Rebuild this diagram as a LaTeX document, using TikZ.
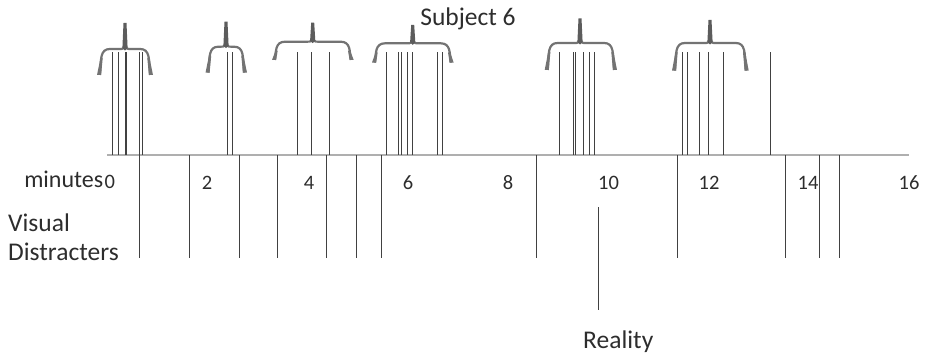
\documentclass[tikz,border=0pt]{standalone}
\usepackage{fontspec}
\setmainfont{Carlito}
\definecolor{evline}{RGB}{65,65,65}
\definecolor{axisc}{RGB}{175,175,175}
\definecolor{bracec}{RGB}{115,115,115}
\definecolor{txt}{RGB}{45,45,45}
\tikzset{
  evt/.style={draw=evline, line width=0.9pt},
  axisline/.style={draw=axisc, line width=1.4pt},
  bracepath/.style={draw=bracec, line width=2.2pt, line join=round},
  bracetip/.style={fill=bracec!80!black, draw=none},
  lbl/.style={text=txt, inner sep=0pt, font=\fontsize{25.5}{28}\selectfont},
  num/.style={text=txt, inner sep=0pt, font=\fontsize{20.5}{22}\selectfont, anchor=base},
}
\newcommand\mybrace[6]{% x1, x2, xc, yh, yend, ytip
  % left half
  \draw[bracepath] ({#1+1},{#5}) .. controls ({#1+2},{#4+10}) and ({#1+1},{#4}) .. ({#1+11},{#4})
     -- ({#3-6},{#4}) .. controls ({#3-1},{#4}) .. ({#3},{#4-7});
  % right half
  \draw[bracepath] ({#2-1},{#5}) .. controls ({#2-2},{#4+10}) and ({#2-1},{#4}) .. ({#2-11},{#4})
     -- ({#3+6},{#4}) .. controls ({#3+1},{#4}) .. ({#3},{#4-7});
  % tapered ends
  \fill[bracec] ({#1+1+1.1},{#5}) -- ({#1+2.6+1.1},{#4+9}) -- ({#1+2.6-1.1},{#4+9}) -- ({#1-2},{#5}) -- cycle;
  \fill[bracec] ({#2-1-1.1},{#5}) -- ({#2-2.6-1.1},{#4+9}) -- ({#2-2.6+1.1},{#4+9}) -- ({#2+2},{#5}) -- cycle;
  % tapered tip
  \fill[bracetip] ({#3-2.6},{#4-1}) -- ({#3-1.5},{#6}) -- ({#3+1.5},{#6}) -- ({#3+2.6},{#4-1})
     -- ({#3},{#4+1.5}) -- cycle;
}
\begin{document}
\begin{tikzpicture}[x=1pt,y=-1pt]
\useasboundingbox (0,0) rectangle (925,355);
% axis
\coordinate (ax0) at (107,155);
\coordinate (ax1) at (909,155);
\draw[axisline] (ax0) -- (ax1);
% subject events (above axis)
\foreach \x in {112,118,125,126.5,139,142.5,227.7,232.7,297.7,311.7,329.3,386.7,398.3,401,407.3,412.7,437.3,442,559,573.3,575.3,583.3,589.3,594.3,682.7,687.7,699.3,708.3,723.3,770}
  \draw[evt] (\x,155) -- (\x,52);
% visual distracters (below axis)
\foreach \x in {139.3,189,239,277,326.3,356.3,381,536,677.7,785.3,819.3,839.7}
  \draw[evt] (\x,155) -- (\x,258);
% reality
\coordinate (rtop) at (598.7,207.3);
\coordinate (rbot) at (598.7,310);
\draw[evt] (rtop) -- (rbot);
% braces
\mybrace{99}{151}{125}{49}{75}{23}
\mybrace{207.5}{245}{226}{46.7}{72.7}{21.7}
\mybrace{274}{351.7}{312.7}{41.7}{60}{22.7}
\mybrace{374}{451.7}{412.7}{43.3}{62.7}{25}
\mybrace{546.7}{615}{580}{43}{70}{18.3}
\mybrace{674}{746.7}{710}{43}{70.7}{20}
% texts
\node[lbl, anchor=base] (subj) at (468,26) {Subject 6};
\node[lbl, anchor=base east, font=\fontsize{24}{28}\selectfont] (minutes) at (103.5,188) {minutes};
\node[num] (n0) at (109.8,188.5) {0};
\node[num] (n2) at (207,190) {2};
\node[num] (n4) at (309,190) {4};
\node[num] (n6) at (408,190) {6};
\node[num] (n8) at (508,190) {8};
\node[num] (n10) at (608.5,190) {10};
\node[num] (n12) at (709,190) {12};
\node[num] (n14) at (808,190) {14};
\node[num] (n16) at (909,190) {16};
\node[lbl, anchor=base west] (visual) at (8,231) {Visual};
\node[lbl, anchor=base west] (distr) at (8,260) {Distracters};
\node[lbl, anchor=base west] (reality) at (583,348.5) {Reality};
\end{tikzpicture}
\end{document}
